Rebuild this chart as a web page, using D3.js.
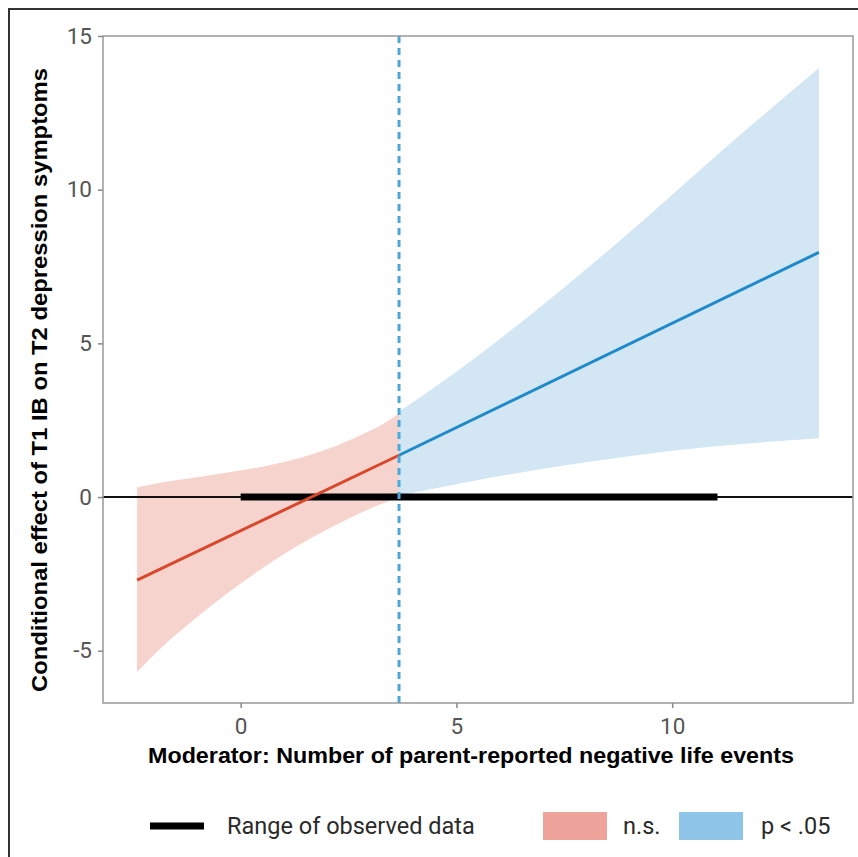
<!DOCTYPE html>
<html>
<head>
<meta charset="utf-8">
<script src="https://cdn.jsdelivr.net/npm/d3@7"></script>
<style>
  body { margin: 0; background: #fff; }
  svg { display: block; }
</style>
</head>
<body>
<div class="JNPlot"></div>
<script>
// values
const xTicks = [0, 5, 10];
const yTicks = [-5, 0, 5, 10, 15];

const jnPoint = 3.67;          // Johnson-Neyman point (dashed line)
const observedRange = [0, 11.05];

// non-significant region (n.s.)
const nsX     = [-2.4, -1.8, -1.05, -0.3, 0.5, 1.3, 2.05, 2.8, 3.3, 3.67];
const nsUpper = [0.32, 0.48, 0.64, 0.80, 0.99, 1.25, 1.58, 2.03, 2.38, 2.72];
const nsLower = [-5.69, -4.85, -3.95, -3.12, -2.32, -1.60, -1.02, -0.50, -0.20, 0.0];
const nsLineX = [-2.4, 3.67];
const nsLineY = [-2.70, 1.36];

// significant region (p < .05)
const sigX     = [3.67, 5, 7, 9, 11, 13.4];
const sigUpper = [2.78, 4.08, 6.25, 8.60, 11.08, 13.96];
const sigLower = [0.05, 0.42, 0.92, 1.33, 1.65, 1.91];
const sigLineX = [3.67, 13.4];
const sigLineY = [1.36, 7.96];

const legendLabels = ["Range of observed data", "n.s.", "p < .05"];

const width = 858;
const height = 857;
const panel = { left: 103, right: 853, top: 36, bottom: 703 };

const svg = d3.select(".JNPlot").append("svg")
  .attr("width", width)
  .attr("height", height);

// outer frame of the figure (only top and left show)
svg.append("path")
  .attr("d", `M9,${height} V9 H${width}`)
  .attr("fill", "none")
  .attr("stroke", "#333")
  .attr("stroke-width", 2);

const x = d3.scaleLinear().domain([-3.19, 14.19]).range([panel.left, panel.right]);
const y = d3.scaleLinear().domain([-6.7, 15]).range([panel.bottom, panel.top]);

const area = d3.area()
  .x(d => x(d[0]))
  .y0(d => y(d[1]))
  .y1(d => y(d[2]))
  .curve(d3.curveMonotoneX);

const line = d3.line()
  .x(d => x(d[0]))
  .y(d => y(d[1]));

// bands
svg.append("path")
  .datum(nsX.map((v, i) => [v, nsLower[i], nsUpper[i]]))
  .attr("d", area)
  .attr("fill", "#f6d4cd");

svg.append("path")
  .datum(sigX.map((v, i) => [v, sigLower[i], sigUpper[i]]))
  .attr("d", area)
  .attr("fill", "#d2e6f3");

// zero reference line
svg.append("line")
  .attr("x1", panel.left).attr("x2", panel.right)
  .attr("y1", y(0)).attr("y2", y(0))
  .attr("stroke", "#111")
  .attr("stroke-width", 2);

// range of observed data
svg.append("line")
  .attr("x1", x(observedRange[0])).attr("x2", x(observedRange[1]))
  .attr("y1", y(0)).attr("y2", y(0))
  .attr("stroke", "#000")
  .attr("stroke-width", 7);

// estimate lines
svg.append("path")
  .datum(nsLineX.map((v, i) => [v, nsLineY[i]]))
  .attr("d", line)
  .attr("fill", "none")
  .attr("stroke", "#d9472b")
  .attr("stroke-width", 3);

svg.append("path")
  .datum(sigLineX.map((v, i) => [v, sigLineY[i]]))
  .attr("d", line)
  .attr("fill", "none")
  .attr("stroke", "#1f8ac9")
  .attr("stroke-width", 3);

// Johnson-Neyman dashed line
svg.append("line")
  .attr("x1", x(jnPoint)).attr("x2", x(jnPoint))
  .attr("y1", panel.top).attr("y2", panel.bottom)
  .attr("stroke", "#4aa8dc")
  .attr("stroke-width", 3)
  .attr("stroke-dasharray", "7,5");

// panel border
svg.append("rect")
  .attr("x", panel.left).attr("y", panel.top)
  .attr("width", panel.right - panel.left)
  .attr("height", panel.bottom - panel.top)
  .attr("fill", "none")
  .attr("stroke", "#999")
  .attr("stroke-width", 1.5);

// axes (plain hyphen for negatives, as in the figure)
const xAxis = svg.append("g")
  .attr("transform", `translate(0,${panel.bottom})`)
  .call(d3.axisBottom(x).tickValues(xTicks).tickFormat(d => String(d)).tickSize(5).tickPadding(10));

const yAxis = svg.append("g")
  .attr("transform", `translate(${panel.left},0)`)
  .call(d3.axisLeft(y).tickValues(yTicks).tickFormat(d => String(d)).tickSize(5).tickPadding(6));

[xAxis, yAxis].forEach(g => {
  g.select(".domain").remove();
  g.selectAll(".tick line").attr("stroke", "#888").attr("stroke-width", 1.5);
  g.selectAll(".tick text")
    .attr("fill", "#555")
    .style("font-family", "Roboto, 'Noto Sans', sans-serif")
    .style("font-size", "22.5px");
});

// axis titles
svg.append("text")
  .attr("x", 471)
  .attr("y", 763)
  .attr("text-anchor", "middle")
  .attr("textLength", 646)
  .attr("lengthAdjust", "spacingAndGlyphs")
  .style("font-family", "'Liberation Sans', Arial, sans-serif")
  .style("font-weight", "bold")
  .style("font-size", "22px")
  .attr("fill", "#000")
  .text("Moderator: Number of parent-reported negative life events");

svg.append("text")
  .attr("transform", "translate(47,380) rotate(-90)")
  .attr("text-anchor", "middle")
  .attr("textLength", 624)
  .attr("lengthAdjust", "spacingAndGlyphs")
  .style("font-family", "'Liberation Sans', Arial, sans-serif")
  .style("font-weight", "bold")
  .style("font-size", "22px")
  .attr("fill", "#000")
  .text("Conditional effect of T1 IB on T2 depression symptoms");

// legend
const legend = svg.append("g")
  .style("font-family", "Roboto, 'Noto Sans', sans-serif")
  .style("font-size", "23.5px")
  .attr("fill", "#2a2a2a");

legend.append("line")
  .attr("x1", 150).attr("x2", 204)
  .attr("y1", 826).attr("y2", 826)
  .attr("stroke", "#000")
  .attr("stroke-width", 7);

legend.append("text").attr("x", 227).attr("y", 834).text(legendLabels[0]);

legend.append("rect")
  .attr("x", 543).attr("y", 812).attr("width", 64).attr("height", 28)
  .attr("fill", "#eea49b");
legend.append("text").attr("x", 623).attr("y", 834).text(legendLabels[1]);

legend.append("rect")
  .attr("x", 679).attr("y", 812).attr("width", 64).attr("height", 28)
  .attr("fill", "#8fc5e8");
legend.append("text").attr("x", 761).attr("y", 834).text(legendLabels[2]);
</script>
</body>
</html>
